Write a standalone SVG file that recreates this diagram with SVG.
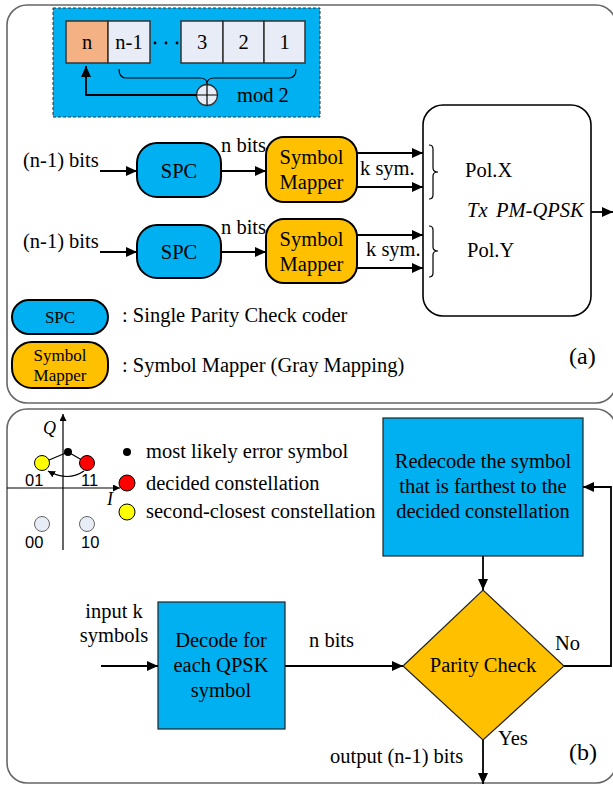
<svg xmlns="http://www.w3.org/2000/svg" width="613" height="787" viewBox="0 0 613 787">
  <style>
    text { font-family: "Liberation Serif", "Times New Roman", serif; font-size: 20.5px; fill: #000; }
    .it { font-style: italic; }
    .mid { text-anchor: middle; }
    .sans { font-family: "Liberation Sans", Arial, sans-serif; font-size: 16.5px; }
    .panel { fill: none; stroke: #666; stroke-width: 1.6; }
    .blue { fill: #00B0F0; stroke: #000; stroke-width: 2; }
    .gold { fill: #FFC000; stroke: #000; stroke-width: 2; }
    .boxb { fill: #00B0F0; stroke: #222; stroke-width: 1.2; }
    .cell { fill: #E7ECF6; stroke: #333; stroke-width: 1.5; }
    .wire { fill: none; stroke: #000; stroke-width: 1.8; }
    .thin { fill: none; stroke: #000; stroke-width: 1.2; }
    .arr { marker-end: url(#ah); }
  </style>
  <defs>
    <marker id="ah" markerUnits="userSpaceOnUse" markerWidth="12" markerHeight="10" refX="11" refY="5" orient="auto">
      <path d="M0,0 L11,5 L0,10 z" fill="#000"/>
    </marker>
    <marker id="ahs" markerUnits="userSpaceOnUse" markerWidth="8" markerHeight="7" refX="7" refY="3.5" orient="auto">
      <path d="M0,0 L7,3.5 L0,7 z" fill="#000"/>
    </marker>
  </defs>

  <!-- panel frames -->
  <rect class="panel" x="7" y="5" width="609" height="398" rx="20"/>
  <rect class="panel" x="7" y="409" width="609" height="374" rx="20"/>

  <!-- (a) shift register with parity feedback -->
  <g id="register">
    <rect x="53" y="8" width="267" height="109" fill="#00B0F0" stroke="#333" stroke-width="1" stroke-dasharray="3,2"/>
    <rect x="66" y="21" width="42" height="42" fill="#F4B183" stroke="#333" stroke-width="1.5"/>
    <rect class="cell" x="108" y="21" width="42" height="42"/>
    <rect class="cell" x="181" y="21" width="42" height="42"/>
    <rect class="cell" x="223" y="21" width="41" height="42"/>
    <rect class="cell" x="264" y="21" width="41" height="42"/>
    <text class="mid" x="87" y="49">n</text>
    <text class="mid" x="129" y="49">n-1</text>
    <text class="mid" x="202" y="49">3</text>
    <text class="mid" x="243.5" y="49">2</text>
    <text class="mid" x="284.5" y="49">1</text>
    <circle cx="155" cy="43" r="1.4" fill="#000"/>
    <circle cx="166" cy="43" r="1.4" fill="#000"/>
    <circle cx="177" cy="43" r="1.4" fill="#000"/>
    <path class="thin" d="M119,69 Q119,78 126,78 L200,78 Q207,78 207,84 Q207,78 214,78 L289,78 Q296,78 296,69"/>
    <circle cx="207" cy="95" r="10.5" fill="#E7ECF6" stroke="#333" stroke-width="1.3"/>
    <path class="thin" d="M196.5,95 H217.5 M207,84.5 V105.5"/>
    <path class="wire arr" d="M196.5,95 H86 V66"/>
    <text x="237" y="102">mod 2</text>
  </g>

  <!-- (a) transmitter chains -->
  <g id="spc1">
    <rect class="blue" x="137" y="143" width="84" height="54" rx="20"/>
    <text class="mid" x="179" y="178">SPC</text>
  </g>
  <g id="mapper1">
    <rect class="gold" x="266" y="137" width="91" height="65" rx="18"/>
    <text class="mid" x="311.5" y="164">Symbol</text>
    <text class="mid" x="311.5" y="189">Mapper</text>
  </g>
  <g id="spc2">
    <rect class="blue" x="137" y="225" width="84" height="53" rx="20"/>
    <text class="mid" x="179" y="259">SPC</text>
  </g>
  <g id="mapper2">
    <rect class="gold" x="266" y="219" width="91" height="64" rx="18"/>
    <text class="mid" x="311.5" y="245.5">Symbol</text>
    <text class="mid" x="311.5" y="270.5">Mapper</text>
  </g>
  <g id="tx">
    <rect x="423" y="105" width="168" height="211" rx="20" fill="#fff" stroke="#000" stroke-width="1.6"/>
    <path class="thin" d="M429,145 Q433,145 433,149 V168 Q433,172 438,172 Q433,172 433,176 V195 Q433,199 429,199"/>
    <path class="thin" d="M429,226 Q433,226 433,230 V247 Q433,251 438,251 Q433,251 433,255 V273 Q433,277 429,277"/>
    <text x="465" y="177">Pol.X</text>
    <text class="it" x="467" y="217">Tx</text>
    <text class="it" x="496" y="217">PM-QPSK</text>
    <text x="467" y="257">Pol.Y</text>
  </g>

  <g id="connectors-a">
    <path class="wire arr" d="M100,171 H137"/>
    <path class="wire arr" d="M221,171 H266"/>
    <path class="wire arr" d="M357,153 H423"/>
    <path class="wire arr" d="M357,187 H423"/>
    <path class="wire arr" d="M100,252 H137"/>
    <path class="wire arr" d="M221,252 H266"/>
    <path class="wire arr" d="M357,235 H423"/>
    <path class="wire arr" d="M357,268 H423"/>
    <path class="wire arr" d="M591,212 H613"/>
  </g>
  <g id="labels-a">
    <text x="23" y="167">(n-1) bits</text>
    <text x="23" y="248">(n-1) bits</text>
    <text x="221" y="152">n bits</text>
    <text x="221" y="234">n bits</text>
    <text x="360" y="175">k sym.</text>
    <text x="366" y="256">k sym.</text>
  </g>

  <!-- (a) legend -->
  <g id="legend-a">
    <rect class="blue" x="12" y="300" width="96" height="34" rx="17"/>
    <text class="mid" x="60" y="323" style="font-size:17px">SPC</text>
    <text x="122" y="322">: Single Parity Check coder</text>
    <rect class="gold" x="12" y="342" width="96" height="46" rx="20"/>
    <text class="mid" x="60" y="361" style="font-size:17px">Symbol</text>
    <text class="mid" x="60" y="381" style="font-size:17px">Mapper</text>
    <text x="122" y="372">: Symbol Mapper (Gray Mapping)</text>
    <text x="569" y="364" style="font-size:24px">(a)</text>
  </g>

  <!-- (b) QPSK constellation sketch -->
  <g id="constellation">
    <path class="thin" d="M63,550 V414" style="marker-end:url(#ahs)"/>
    <path class="thin" d="M7,488 H120" style="marker-end:url(#ahs)"/>
    <text class="it" x="43" y="434" style="font-size:18px">Q</text>
    <text class="it" x="107" y="505" style="font-size:18px">I</text>
    <path class="thin" d="M68,452 L42,463 M68,452 L87,463"/>
    <path class="thin" d="M84,471 Q68,482 48,471" style="marker-end:url(#ahs)"/>
    <circle cx="42" cy="463" r="7.5" fill="#FFFF00" stroke="#000" stroke-width="1"/>
    <circle cx="87" cy="463" r="7.5" fill="#FF0000" stroke="#000" stroke-width="1"/>
    <circle cx="68" cy="452" r="4" fill="#000"/>
    <circle cx="42" cy="524" r="7.5" fill="#E7ECF6" stroke="#666" stroke-width="1"/>
    <circle cx="87" cy="524" r="7.5" fill="#E7ECF6" stroke="#666" stroke-width="1"/>
    <text class="sans" x="25" y="486">01</text>
    <text class="sans" x="81" y="486">11</text>
    <text class="sans" x="25" y="548">00</text>
    <text class="sans" x="81" y="548">10</text>
  </g>
  <g id="legend-b">
    <circle cx="127" cy="452" r="4" fill="#000"/>
    <text x="146" y="458">most likely error symbol</text>
    <circle cx="127" cy="483" r="8" fill="#FF0000" stroke="#000" stroke-width="1"/>
    <text x="146" y="490">decided constellation</text>
    <circle cx="127" cy="512" r="8" fill="#FFFF00" stroke="#000" stroke-width="1"/>
    <text x="146" y="518">second-closest constellation</text>
  </g>

  <!-- (b) decoding flow -->
  <g id="redecode">
    <rect class="boxb" x="383" y="418" width="200" height="138"/>
    <text class="mid" x="483" y="468">Redecode the symbol</text>
    <text class="mid" x="483" y="493">that is farthest to the</text>
    <text class="mid" x="483" y="518">decided constellation</text>
  </g>
  <g id="decode">
    <rect class="boxb" x="158" y="602" width="127" height="127"/>
    <text class="mid" x="221" y="647">Decode for</text>
    <text class="mid" x="221" y="672">each QPSK</text>
    <text class="mid" x="221" y="697">symbol</text>
  </g>
  <g id="parity">
    <path d="M403,666 L483,590 L564,666 L483,740 Z" fill="#FFC000" stroke="#222" stroke-width="1.2"/>
    <text class="mid" x="483" y="672">Parity Check</text>
  </g>

  <g id="connectors-b">
    <path class="wire arr" d="M101,666 H158"/>
    <path class="wire arr" d="M285,666 H403"/>
    <path class="wire arr" d="M483,556 V590"/>
    <path class="wire arr" d="M564,666 H611 V487 H583"/>
    <path class="wire arr" d="M483,740 V784"/>
  </g>
  <g id="labels-b">
    <text class="mid" x="114" y="618">input k</text>
    <text class="mid" x="114" y="642">symbols</text>
    <text x="309" y="647">n bits</text>
    <text x="555" y="650">No</text>
    <text x="498" y="745">Yes</text>
    <text x="330" y="763">output (n-1) bits</text>
    <text x="569" y="760" style="font-size:24px">(b)</text>
  </g>
</svg>
